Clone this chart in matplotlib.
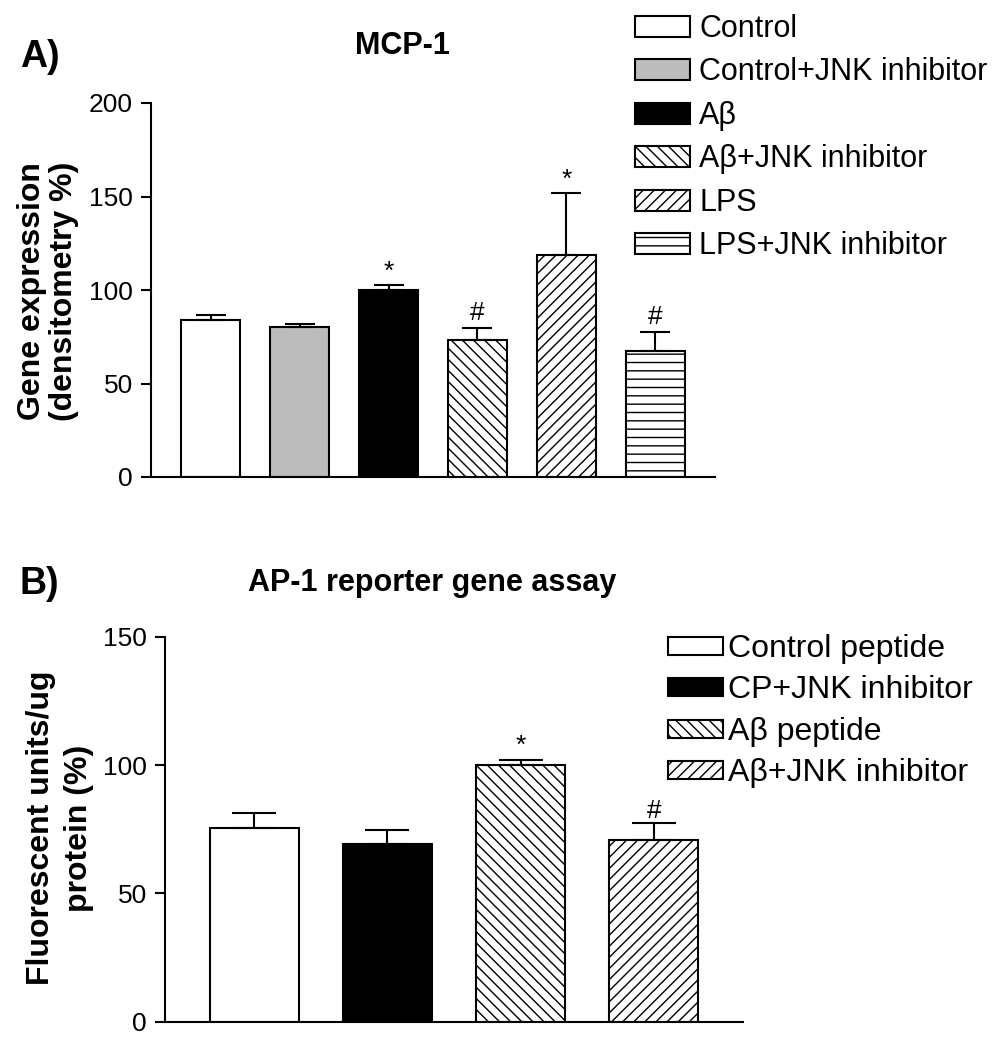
import matplotlib
matplotlib.use('Agg')
from matplotlib import pyplot as plt
import numpy as np

plt.rcParams['font.family'] = ['Liberation Sans', 'DejaVu Sans']
plt.rcParams['hatch.linewidth'] = 1.0

# panel A: MCP-1
labels_a = ['Control', 'Control+JNK inhibitor', 'A\u03b2', 'A\u03b2+JNK inhibitor',
            'LPS', 'LPS+JNK inhibitor']
values_a = [84, 80, 100, 73, 118.5, 67.5]
errors_a = [2.7, 1.7, 2.5, 6.6, 33.5, 10.3]
marks_a = ['', '', '*', '#', '*', '#']
colors_a = ['white', '#bcbcbc', 'black', 'white', 'white', 'white']
hatches_a = ['', '', '', '\\\\\\', '///', '--']

# panel B: AP-1 reporter gene assay
labels_b = ['Control peptide', 'CP+JNK inhibitor', 'A\u03b2 peptide', 'A\u03b2+JNK inhibitor']
values_b = [75.3, 69.2, 100, 70.8]
errors_b = [5.9, 5.5, 2, 6.5]
marks_b = ['', '', '*', '#']
colors_b = ['white', 'black', 'white', 'white']
hatches_b = ['', '', '\\\\\\', '///']

W, H = 1003, 1050
fig = plt.figure(figsize=(W / 100, H / 100), dpi=100)


def px(x, y):
    return x / W, 1 - y / H


def panel(rect, labels, values, errors, marks, colors, hatches, ymax, yticks,
          capsize, offs):
    ax = fig.add_axes(rect)
    x = np.arange(len(values))
    bars = ax.bar(x, values, width=0.665, color=colors, edgecolor='black',
                  linewidth=1.5, hatch=hatches, label=labels, zorder=2)
    ax.errorbar(x, values, yerr=[np.zeros(len(errors)), errors], fmt='none',
                ecolor='black', elinewidth=1.5, capsize=capsize, capthick=1.5,
                zorder=3)
    for i in range(len(values)):
        if marks[i]:
            ax.annotate(marks[i], (x[i], values[i] + errors[i]),
                        xytext=(0, offs[marks[i]]), textcoords='offset pixels',
                        ha='center', va='baseline', fontsize=19)
    ax.set_xlim(-0.67, len(values) - 0.33)
    ax.set_ylim(0, ymax)
    ax.set_yticks(yticks)
    ax.set_xticks([])
    ax.spines['top'].set_visible(False)
    ax.spines['right'].set_visible(False)
    ax.spines['left'].set_linewidth(1.5)
    ax.spines['bottom'].set_linewidth(1.5)
    ax.tick_params(axis='y', direction='out', length=7, width=1.5, pad=6,
                   labelsize=19)
    return ax, bars


l, b = px(151, 477)
r, t = px(715, 103)
ax_a, bars_a = panel([l, b, r - l, t - b], labels_a, values_a, errors_a, marks_a,
                     colors_a, hatches_a, 200, [0, 50, 100, 150, 200], 11,
                     {'*': 6, '#': 8})

l, b = px(165, 1021.7)
r, t = px(743, 636.7)
ax_b, bars_b = panel([l, b, r - l, t - b], labels_b, values_b, errors_b, marks_b,
                     colors_b, hatches_b, 150, [0, 50, 100, 150], 16,
                     {'*': 7, '#': 5})

fig.legend(handles=list(bars_a), labels=labels_a, loc='upper left',
           bbox_to_anchor=px(635, 14), frameon=False, fontsize=22,
           borderpad=0, borderaxespad=0, handlelength=1.8, handleheight=0.68,
           handletextpad=0.3, labelspacing=0.44)
fig.legend(handles=list(bars_b), labels=labels_b, loc='upper left',
           bbox_to_anchor=px(668, 634), frameon=False, fontsize=23,
           borderpad=0, borderaxespad=0, handlelength=1.72, handleheight=0.5,
           handletextpad=0.16, labelspacing=0.36)

fig.text(*px(20, 57), 'A)', fontsize=27, fontweight='bold', ha='left', va='center')
fig.text(*px(20, 584), 'B)', fontsize=27, fontweight='bold', ha='left', va='center')
fig.text(*px(402, 54), 'MCP-1', fontsize=22, fontweight='bold', ha='center',
         va='baseline')
fig.text(*px(432, 591), 'AP-1 reporter gene assay', fontsize=22,
         fontweight='bold', ha='center', va='baseline')

fig.text(*px(48, 291), 'Gene expression\n(densitometry %)', fontsize=23,
         fontweight='bold', rotation=90, ha='center', va='center',
         multialignment='center', linespacing=1.05)
fig.text(*px(60, 828), 'Fluorescent units/ug\nprotein (%)', fontsize=23,
         fontweight='bold', rotation=90, ha='center', va='center',
         multialignment='center', linespacing=1.35)

fig.savefig('out.png', dpi=100)
